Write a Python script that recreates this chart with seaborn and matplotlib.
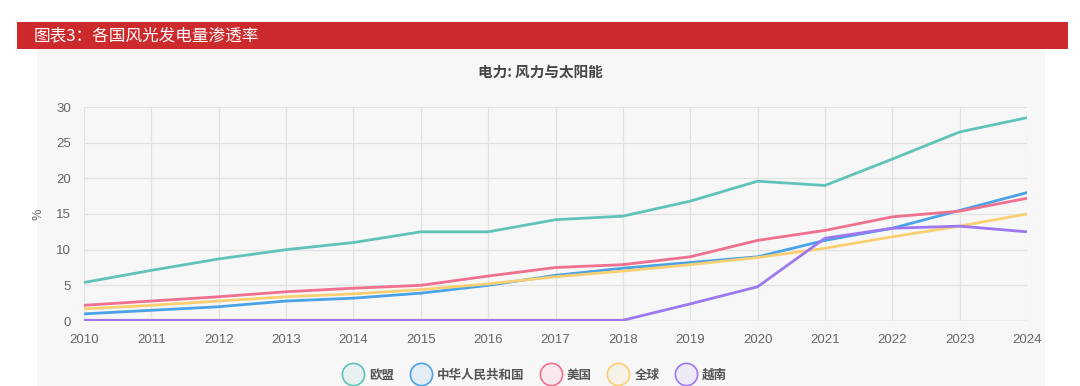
import numpy as np
import pandas as pd
import seaborn as sns
import matplotlib.pyplot as plt
from matplotlib.patches import Rectangle
from matplotlib.lines import Line2D

years = list(range(2010, 2025))
eu = [5.4, 7.1, 8.7, 10.0, 11.0, 12.5, 12.5, 14.2, 14.7, 16.8, 19.6, 19.0, 22.7, 26.5, 28.5]
china = [1.0, 1.5, 2.0, 2.8, 3.2, 3.9, 5.0, 6.4, 7.4, 8.2, 9.0, 11.3, 13.0, 15.5, 18.0]
usa = [2.2, 2.8, 3.4, 4.1, 4.6, 5.0, 6.3, 7.5, 7.9, 9.0, 11.3, 12.7, 14.6, 15.4, 17.2]
world = [1.7, 2.2, 2.8, 3.4, 3.8, 4.4, 5.2, 6.2, 7.0, 7.9, 8.9, 10.2, 11.8, 13.3, 15.0]
vietnam = [0.1, 0.1, 0.1, 0.1, 0.1, 0.1, 0.1, 0.1, 0.1, 2.4, 4.8, 11.6, 13.0, 13.3, 12.5]

names = ["欧盟", "中华人民共和国", "美国", "全球", "越南"]
colors = ["#5fc3b8", "#4aa3e6", "#f0708f", "#f9cf72", "#9d78f0"]

df = pd.DataFrame({"year": years, names[0]: eu, names[1]: china, names[2]: usa,
                   names[3]: world, names[4]: vietnam})
long = df.melt(id_vars="year", var_name="region", value_name="share")

sns.set_style("white")
plt.rcParams["font.family"] = ["Noto Sans CJK SC", "DejaVu Sans"]

fig = plt.figure(figsize=(10.8, 3.86), dpi=100)
fig.patch.set_facecolor("white")

# chart panel and red banner (figure pixel coords)
W, H = 1080, 386
fig.patches.append(Rectangle((37 / W, 0), (1045 - 37) / W, 1 - 49 / H,
                             transform=fig.transFigure, facecolor="#f7f7f7",
                             edgecolor="none", zorder=-2))
fig.patches.append(Rectangle((17 / W, 1 - 49 / H), (1068 - 17) / W, 27 / H,
                             transform=fig.transFigure, facecolor="#cc2a2c",
                             edgecolor="none", zorder=-1))
fig.text(34 / W, 1 - 36 / H, "图表3：各国风光发电量渗透率", color="white",
         fontsize=12, va="center", ha="left")

ax = fig.add_axes([84 / W, 1 - 321 / H, (1027 - 84) / W, (321 - 107) / H])
ax.set_facecolor("none")
ax.set_zorder(3)

sns.lineplot(data=long, x="year", y="share", hue="region", palette=colors,
             hue_order=names, linewidth=2.0, ax=ax, legend=False)

ax.set_xlim(2010, 2024)
ax.set_ylim(0, 30)
ax.set_xticks(years)
ax.set_yticks(range(0, 31, 5))
ax.grid(True, color="#e2e2e2", linewidth=0.9)
ax.set_axisbelow(True)
for s in ax.spines.values():
    s.set_visible(False)
ax.axhline(0, color="#d0d0d0", linewidth=1.0, zorder=0)
ax.tick_params(axis="both", colors="#d8d8d8", length=6, width=0.9,
               labelcolor="#666666", labelsize=9.5)
for lab in ax.get_xticklabels() + ax.get_yticklabels():
    lab.set_family(["Liberation Sans", "DejaVu Sans"])
ax.set_xlabel("")
ax.set_ylabel("%", color="#666666", fontsize=9, labelpad=8)

fig.text(540 / W, 1 - 72 / H, "电力: 风力与太阳能", ha="center", va="center",
         fontsize=10.5, fontweight="bold", color="#444444")

handles = [Line2D([], [], linestyle="none", marker="o", markersize=16,
                  markerfacecolor=c + "1c", markeredgecolor=c, markeredgewidth=1.2)
           for c in colors]
leg = fig.legend(handles, names, loc="center", bbox_to_anchor=(535 / W, 1 - 375 / H),
                 ncol=5, frameon=False, fontsize=9, handletextpad=0.5,
                 columnspacing=1.3, handlelength=1.6)
for t in leg.get_texts():
    t.set_color("#555555")
    t.set_fontweight("bold")

fig.savefig("out.png", dpi=100)
